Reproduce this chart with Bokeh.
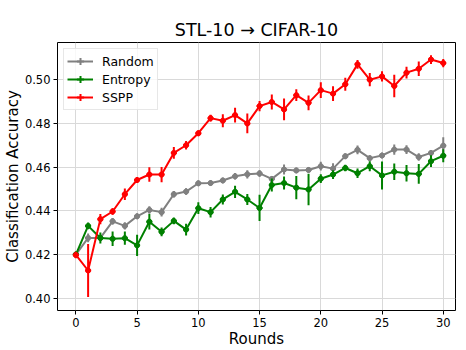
import numpy as np
from bokeh.plotting import figure
from bokeh.models import (ColumnDataSource, Legend, LegendItem, Range1d, FixedTicker,
                          CustomJSTickFormatter)
from bokeh.embed import file_html
from bokeh.resources import INLINE

rounds = list(range(31))

random_mean = [0.4200, 0.4276, 0.4276, 0.4352, 0.4331, 0.4375, 0.4404, 0.4394, 0.4476, 0.4488,
               0.4526, 0.4527, 0.4539, 0.4558, 0.4567, 0.4571, 0.4546, 0.4589, 0.4585, 0.4587,
               0.4604, 0.4593, 0.4650, 0.4679, 0.4641, 0.4653, 0.4680, 0.4680, 0.4646, 0.4665, 0.4698]
random_err = [0.0008, 0.0020, 0.0015, 0.0015, 0.0017, 0.0010, 0.0017, 0.0020, 0.0015, 0.0015,
              0.0010, 0.0008, 0.0010, 0.0015, 0.0019, 0.0015, 0.0012, 0.0023, 0.0010, 0.0010,
              0.0020, 0.0025, 0.0010, 0.0020, 0.0010, 0.0010, 0.0023, 0.0020, 0.0017, 0.0012, 0.0038]

entropy_mean = [0.4200, 0.4331, 0.4276, 0.4272, 0.4275, 0.4242, 0.4350, 0.4304, 0.4354, 0.4314,
                0.4412, 0.4394, 0.4452, 0.4487, 0.4452, 0.4413, 0.4518, 0.4527, 0.4506, 0.4498,
                0.4547, 0.4566, 0.4596, 0.4572, 0.4604, 0.4562, 0.4579, 0.4572, 0.4569, 0.4627, 0.4652]
entropy_err = [0.0010, 0.0015, 0.0025, 0.0033, 0.0030, 0.0049, 0.0035, 0.0020, 0.0015, 0.0027,
               0.0027, 0.0024, 0.0023, 0.0028, 0.0025, 0.0060, 0.0030, 0.0030, 0.0053, 0.0072,
               0.0020, 0.0020, 0.0015, 0.0022, 0.0023, 0.0064, 0.0038, 0.0038, 0.0045, 0.0027, 0.0030]

sspp_mean = [0.4198, 0.4127, 0.4362, 0.4397, 0.4476, 0.4541, 0.4566, 0.4566, 0.4665, 0.4700,
             0.4755, 0.4824, 0.4812, 0.4838, 0.4800, 0.4879, 0.4898, 0.4864, 0.4929, 0.4894,
             0.4952, 0.4936, 0.4979, 0.5070, 0.5000, 0.5015, 0.4971, 0.5032, 0.5050, 0.5092, 0.5076]
sspp_err = [0.0015, 0.0121, 0.0023, 0.0015, 0.0026, 0.0010, 0.0033, 0.0035, 0.0027, 0.0019,
            0.0010, 0.0015, 0.0030, 0.0034, 0.0045, 0.0023, 0.0034, 0.0050, 0.0027, 0.0034,
            0.0036, 0.0034, 0.0030, 0.0020, 0.0030, 0.0023, 0.0052, 0.0027, 0.0033, 0.0020, 0.0019]

series_names = ["Random", "Entropy", "SSPP"]
series_colors = ["#808080", "#008000", "#ff0000"]
x_ticks = [0, 5, 10, 15, 20, 25, 30]
y_ticks = [0.40, 0.42, 0.44, 0.46, 0.48, 0.50]

FONT = "DejaVu Sans"

p = figure(width=466, height=350, output_backend="svg", toolbar_location=None,
           x_range=Range1d(-1.5, 31.0), y_range=Range1d(0.3944, 0.517),
           min_border_left=56, min_border_right=11, min_border_top=42, min_border_bottom=38,
           title="STL-10 \u2192 CIFAR-10")
p.title.align = "center"
p.title.text_font = FONT
p.title.text_font_size = "17.5px"
p.title.text_font_style = "normal"
p.title.text_color = "#000000"
p.title.standoff = 6

p.outline_line_color = "#000000"
p.outline_line_width = 1
p.background_fill_color = "white"
p.border_fill_color = "white"

for ax in (p.xaxis[0], p.yaxis[0]):
    ax.axis_label_text_font = FONT
    ax.axis_label_text_font_size = "15px"
    ax.axis_label_text_font_style = "normal"
    ax.axis_label_text_color = "#000000"
    ax.major_label_text_font = FONT
    ax.major_label_text_font_size = "11.5px"
    ax.major_label_text_color = "#000000"
    ax.axis_line_color = None
    ax.major_tick_line_color = "#000000"
    ax.major_tick_out = 4
    ax.major_tick_in = 0
    ax.minor_tick_line_color = None
    ax.major_label_standoff = 3

p.xaxis.axis_label = "Rounds"
p.yaxis.axis_label = "Classification Accuracy"
p.xaxis.ticker = FixedTicker(ticks=x_ticks)
p.yaxis.ticker = FixedTicker(ticks=y_ticks)
p.yaxis.formatter = CustomJSTickFormatter(code="return tick.toFixed(2);")
p.xaxis.axis_label_standoff = 0
p.yaxis.axis_label_standoff = 0

p.xgrid.ticker = FixedTicker(ticks=x_ticks)
p.ygrid.ticker = FixedTicker(ticks=y_ticks)
p.grid.grid_line_color = "#d9d9d9"
p.grid.grid_line_width = 1

legend_items = []
for name, color, mean, err in zip(series_names, series_colors,
                                  [random_mean, entropy_mean, sspp_mean],
                                  [random_err, entropy_err, sspp_err]):
    m = np.array(mean)
    e = np.array(err)
    src = ColumnDataSource(dict(x=rounds, y=mean, lo=list(m - e), hi=list(m + e)))
    ln = p.line("x", "y", source=src, line_color=color, line_width=2)
    seg = p.segment(x0="x", y0="lo", x1="x", y1="hi", source=src, line_color=color, line_width=2)
    # small cross under each point: hidden by the dot and error bar on the plot,
    # but it gives the legend its matplotlib-style errorbar glyph
    cross = p.scatter("x", "y", source=src, marker="cross", size=6, line_color=color, line_width=2)
    dot = p.scatter("x", "y", source=src, marker="circle", size=5, fill_color=color, line_color=color)
    legend_items.append(LegendItem(label=name, renderers=[ln, cross]))

legend = Legend(items=legend_items, location="top_left")
legend.label_text_font = FONT
legend.label_text_font_size = "12.5px"
legend.label_text_color = "#000000"
legend.glyph_width = 26
legend.glyph_height = 18
legend.label_height = 14
legend.spacing = 0
legend.padding = 3
legend.margin = 6
legend.label_standoff = 9
legend.border_line_color = "#d0d0d0"
legend.border_line_width = 1
legend.background_fill_color = "white"
legend.background_fill_alpha = 0.8
p.add_layout(legend)

open("out.html", "w").write(file_html(p, INLINE))
